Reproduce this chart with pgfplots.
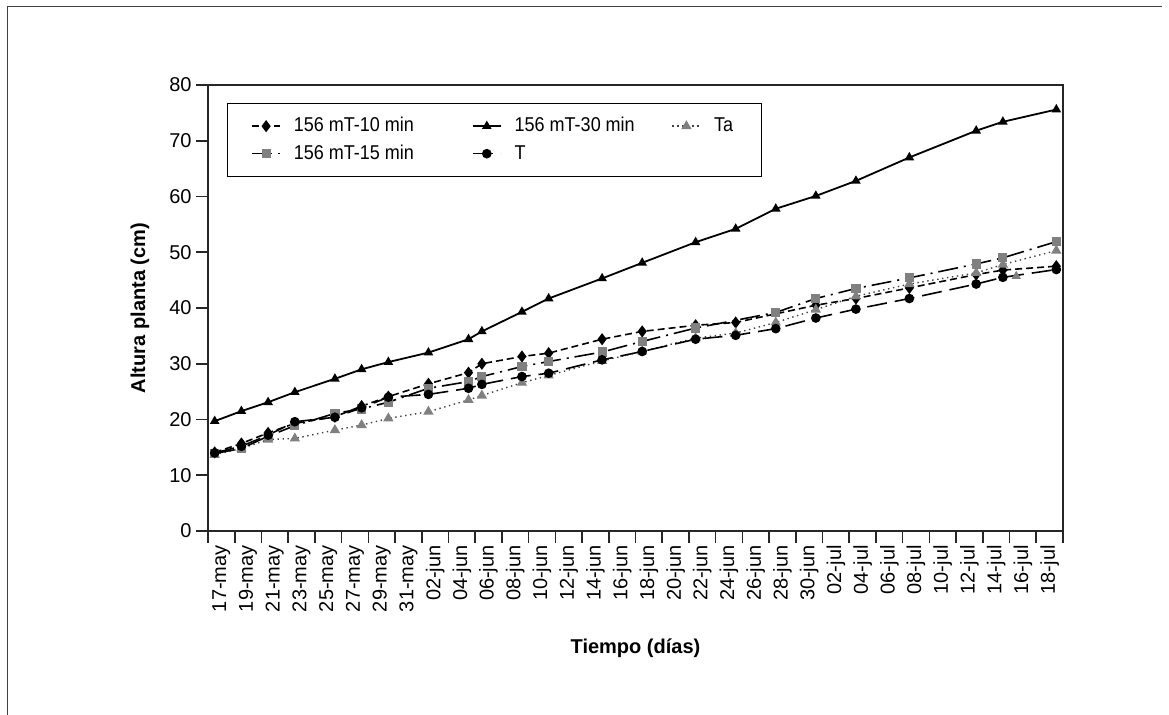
\documentclass[border=0pt]{standalone}
\usepackage{fontspec}
\setmainfont{Liberation Sans}
\newfontfamily\legfont{Liberation Sans}[FakeStretch=0.9]
\usepackage{pgfplots}
\pgfplotsset{compat=1.18}

\definecolor{mgray}{HTML}{808080}

\begin{document}
\begin{tikzpicture}
\path[use as bounding box] (0,0) rectangle (584.5pt,-357.5pt);
\draw[line width=0.5pt, black!75] (3.5pt,-357.5pt) -- (3.5pt,-3.5pt) -- (581pt,-3.5pt);
\begin{axis}[
    at={(104pt,-265.5pt)}, anchor=south west,
    scale only axis, width=427.5pt, height=223pt,
    xmin=-0.5, xmax=63.5, ymin=0, ymax=80,
    axis line style={line width=0.8pt, black!85},
    every tick/.style={line width=0.8pt, black!85},
    tick pos=left, tick align=outside, major tick length=6pt,
    ytick={0,10,...,80},
    yticklabel style={/pgf/number format/assume math mode=true, font=\fontsize{10}{12}\selectfont, inner sep=0pt},
    yticklabel shift=2pt,
    xtick={-0.5,1.5,...,63.5},
    x tick label as interval,
    xticklabels={17-may,19-may,21-may,23-may,25-may,27-may,29-may,31-may,02-jun,04-jun,06-jun,08-jun,10-jun,12-jun,14-jun,16-jun,18-jun,20-jun,22-jun,24-jun,26-jun,28-jun,30-jun,02-jul,04-jul,06-jul,08-jul,10-jul,12-jul,14-jul,16-jul,18-jul},
    xticklabel style={rotate=90, anchor=east, inner sep=0pt, font=\fontsize{10}{12}\selectfont},
    xticklabel shift=1pt,
    xlabel={\bfseries Tiempo (días)},
    ylabel={\bfseries Altura planta (cm)},
    every axis x label/.style={at={([yshift=-58.5pt]rel axis cs:0.5,0)}, anchor=center, font=\fontsize{10}{12}\selectfont},
    every axis y label/.style={at={([xshift=-34pt]rel axis cs:0,0.5)}, anchor=center, rotate=90, font=\fontsize{10}{12}\selectfont},
    legend columns=3,
    legend cell align=left,
    legend style={at={(rel axis cs:0.0219,0.960)}, anchor=north west, draw=black, line width=0.6pt,
        font=\legfont\fontsize{10}{12}\selectfont, inner xsep=12pt, inner ysep=5pt, row sep=1pt,
        /tikz/every odd column/.append style={column sep=4.5pt}},
    legend image code/.code={\draw[mark repeat=2,mark phase=2,#1] plot coordinates {(0pt,0pt) (7pt,0pt) (14pt,0pt)};},
]
% 156 mT-10 min
\addplot[black, line width=0.8pt, dash pattern=on 3.5pt off 2pt, mark=diamond*, mark size=2.4pt, mark options={solid, fill=black}] coordinates {
(0,14.1) (2,15.7) (4,17.6) (6,19.3) (9,20.5) (11,22.4) (13,24.1) (16,26.4)
(19,28.4) (20,30.0) (23,31.3) (25,31.9) (29,34.4) (32,35.8) (36,36.9) (39,37.4)
(45,40.5) (48,41.7) (52,43.6) (57,46.0) (59,46.8) (63,47.5)
};
\addlegendentry{\makebox[87pt][l]{156 mT-10 min}}
% 156 mT-30 min
\addplot[black, line width=0.9pt, mark=triangle*, mark size=1.9pt, mark options={solid, fill=black}] coordinates {
(0,19.7) (2,21.5) (4,23.1) (6,24.9) (9,27.3) (11,29.0) (13,30.3) (16,32.0)
(19,34.4) (20,35.8) (23,39.3) (25,41.7) (29,45.3) (32,48.1) (36,51.8) (39,54.2)
(42,57.8) (45,60.1) (48,62.8) (52,67.0) (57,71.8) (59,73.4) (63,75.6)
};
\addlegendentry{\makebox[76.5pt][l]{156 mT-30 min}}
% Ta
\addplot[black!75, line width=0.7pt, dash pattern=on 0.7pt off 1.8pt, mark=triangle*, mark size=2.3pt, mark options={solid, fill=mgray, draw=mgray}] coordinates {
(0,13.7) (2,14.8) (4,16.4) (6,16.6) (9,18.1) (11,19.0) (13,20.2) (16,21.4)
(19,23.5) (20,24.3) (23,26.6) (25,27.9) (29,30.5) (32,32.2) (36,34.6) (39,35.5)
(42,37.4) (45,39.7) (48,42.1) (52,44.3) (57,46.3) (59,47.8) (63,50.3)
};
\addlegendentry{Ta}
% 156 mT-15 min
\addplot[black, line width=0.8pt, dash pattern=on 10pt off 3pt on 1pt off 3pt, mark=square*, mark size=1.9pt, mark options={solid, fill=mgray, draw=mgray}] coordinates {
(0,13.9) (2,14.8) (4,17.0) (6,18.9) (9,21.1) (11,21.9) (13,23.1) (16,25.6)
(19,26.8) (20,27.7) (23,29.5) (25,30.4) (29,32.1) (32,34.0) (36,36.4)
(42,39.2) (45,41.7) (48,43.5) (52,45.4) (57,47.9) (59,49.0) (63,51.9)
};
\addlegendentry{156 mT-15 min}
% T
\addplot[black, line width=0.8pt, dash pattern=on 10pt off 4pt, mark=*, mark size=2pt, mark options={solid, fill=black}] coordinates {
(0,14.0) (2,15.2) (4,17.2) (6,19.6) (9,20.4) (11,22.1) (13,24.0) (16,24.5)
(19,25.6) (20,26.3) (23,27.7) (25,28.3) (29,30.7) (32,32.2) (36,34.4) (39,35.1)
(42,36.3) (45,38.2) (48,39.8) (52,41.7) (57,44.3) (59,45.5) (63,46.9)
};
\addlegendentry{T}
% isolated Ta marker
\addplot[only marks, mark=triangle*, mark size=2.3pt, mgray, forget plot] coordinates {(60,45.7)};
\end{axis}
\end{tikzpicture}
\end{document}
